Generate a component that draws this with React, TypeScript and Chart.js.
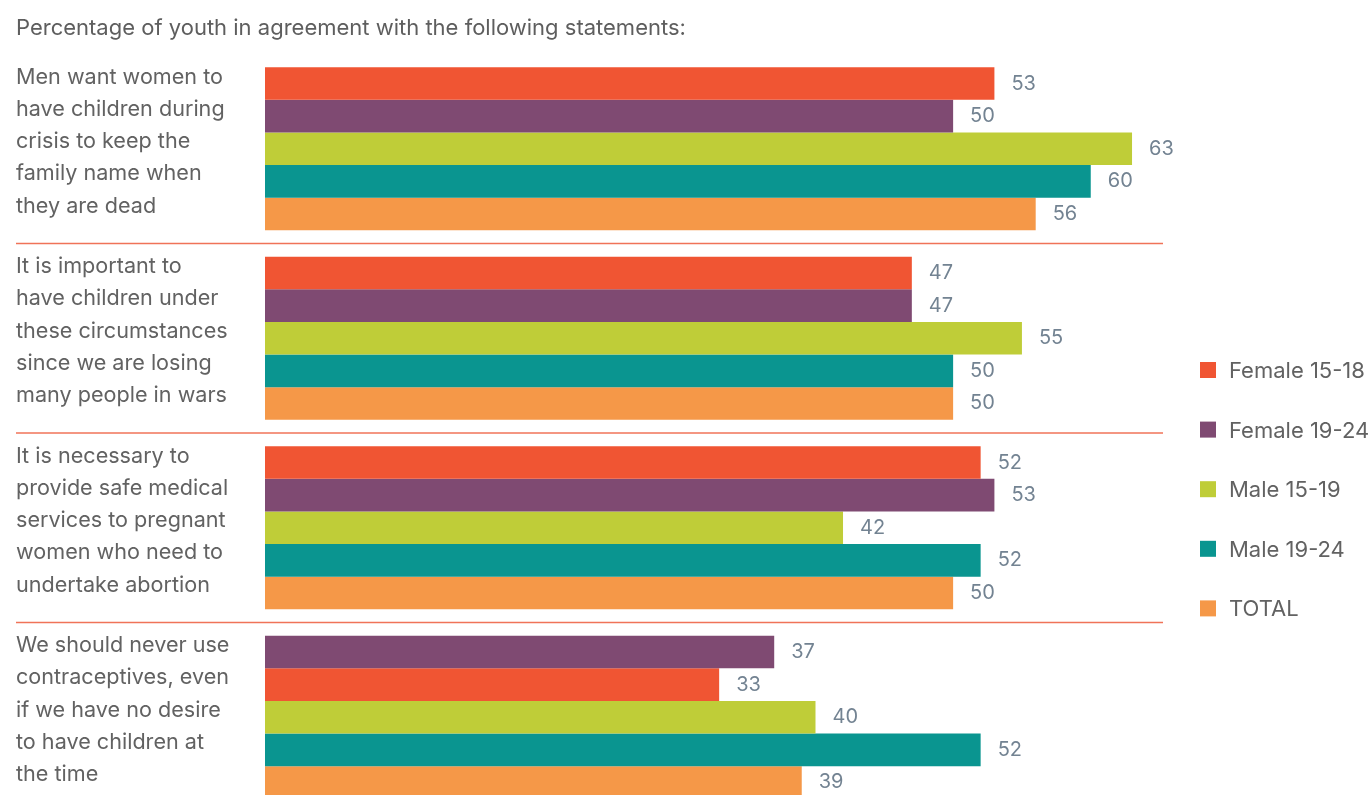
import React, { useEffect, useRef } from "react";
import { Chart, registerables } from "chart.js";

Chart.register(...registerables);

const TITLE = "Percentage of youth in agreement with the following statements:";

const categoryLines: string[][] = [
  ["Men want women to", "have children during", "crisis to keep the", "family name when", "they are dead"],
  ["It is important to", "have children under", "these circumstances", "since we are losing", "many people in wars"],
  ["It is necessary to", "provide safe medical", "services to pregnant", "women who need to", "undertake abortion"],
  ["We should never use", "contraceptives, even", "if we have no desire", "to have children at", "the time"],
];

const seriesLabels = ["Female 15-18", "Female 19-24", "Male 15-19", "Male 19-24", "TOTAL"];

const RED = "#F05533";
const PURPLE = "#7F4A72";
const LIME = "#BFCD38";
const TEAL = "#0A9590";
const ORANGE = "#F59848";

const seriesColors = [RED, PURPLE, LIME, TEAL, ORANGE];

// Bars by slot within each group (in the last group the reference shows the purple bar first)
const slot1Values = [53, 47, 52, 37];
const slot2Values = [50, 47, 53, 33];
const slot3Values = [63, 55, 42, 40];
const slot4Values = [60, 50, 52, 52];
const slot5Values = [56, 50, 50, 39];

const slot1Colors = [RED, RED, RED, PURPLE];
const slot2Colors = [PURPLE, PURPLE, PURPLE, RED];
const slot3Colors = [LIME, LIME, LIME, LIME];
const slot4Colors = [TEAL, TEAL, TEAL, TEAL];
const slot5Colors = [ORANGE, ORANGE, ORANGE, ORANGE];

const FONT = "Inter, 'Noto Sans', sans-serif";

const decorPlugin = {
  id: "decor",
  afterDatasetsDraw(chart: any) {
    const { ctx, chartArea } = chart;
    const yScale = chart.scales.y;
    ctx.save();

    // separators between groups
    ctx.strokeStyle = "#F07358";
    ctx.lineWidth = 1.5;
    for (let i = 0; i < categoryLines.length - 1; i++) {
      const yy = (yScale.getPixelForValue(i) + yScale.getPixelForValue(i + 1)) / 2;
      ctx.beginPath();
      ctx.moveTo(16, yy);
      ctx.lineTo(chartArea.right, yy);
      ctx.stroke();
    }

    // title
    ctx.fillStyle = "#5E5E5E";
    ctx.textAlign = "left";
    ctx.textBaseline = "alphabetic";
    ctx.font = `22px ${FONT}`;
    ctx.fillText(TITLE, 16, 35);

    // category labels
    ctx.font = `21.6px ${FONT}`;
    ctx.fillStyle = "#626262";
    categoryLines.forEach((lines, i) => {
      const c = yScale.getPixelForValue(i);
      lines.forEach((line, j) => {
        ctx.fillText(line, 16, c - 65 + j * 32.2);
      });
    });

    // value labels
    ctx.font = `20px ${FONT}`;
    ctx.fillStyle = "#738392";
    chart.data.datasets.forEach((ds: any, di: number) => {
      const meta = chart.getDatasetMeta(di);
      meta.data.forEach((bar: any, i: number) => {
        ctx.fillText(String(ds.data[i]), bar.x + 17, bar.y + 6);
      });
    });

    // legend
    ctx.font = `22px ${FONT}`;
    seriesLabels.forEach((label, i) => {
      const cy = 370 + i * 59.6;
      ctx.fillStyle = seriesColors[i];
      ctx.fillRect(1200, cy - 8, 16, 16);
      ctx.fillStyle = "#626262";
      ctx.fillText(label, 1229, cy + 8);
    });

    ctx.restore();
  },
};

export default function App() {
  const canvasRef = useRef<HTMLCanvasElement | null>(null);

  useEffect(() => {
    if (!canvasRef.current) return;
    const slots = [
      { data: slot1Values, colors: slot1Colors },
      { data: slot2Values, colors: slot2Colors },
      { data: slot3Values, colors: slot3Colors },
      { data: slot4Values, colors: slot4Colors },
      { data: slot5Values, colors: slot5Colors },
    ];
    const chart = new Chart(canvasRef.current, {
      type: "bar",
      data: {
        labels: categoryLines.map((l) => l.join(" ")),
        datasets: slots.map((s, i) => ({
          label: seriesLabels[i],
          data: s.data,
          backgroundColor: s.colors,
          borderWidth: 0,
          barPercentage: 1,
          categoryPercentage: 0.86,
        })),
      },
      options: {
        indexAxis: "y",
        responsive: true,
        maintainAspectRatio: false,
        animation: false,
        layout: { padding: { left: 265, right: 209, top: 54, bottom: 0 } },
        scales: {
          x: { display: false, min: 0, max: 65.25, grid: { display: false } },
          y: { display: false, grid: { display: false } },
        },
        plugins: {
          legend: { display: false },
          tooltip: { enabled: false },
        },
      },
      plugins: [decorPlugin],
    });
    return () => chart.destroy();
  }, []);

  return (
    <div style={{ position: "fixed", top: 0, left: 0, width: 1372, height: 795, overflow: "hidden", background: "#fff" }}>
      <div style={{ position: "relative", width: 1372, height: 812 }}>
        <canvas ref={canvasRef} />
      </div>
    </div>
  );
}
